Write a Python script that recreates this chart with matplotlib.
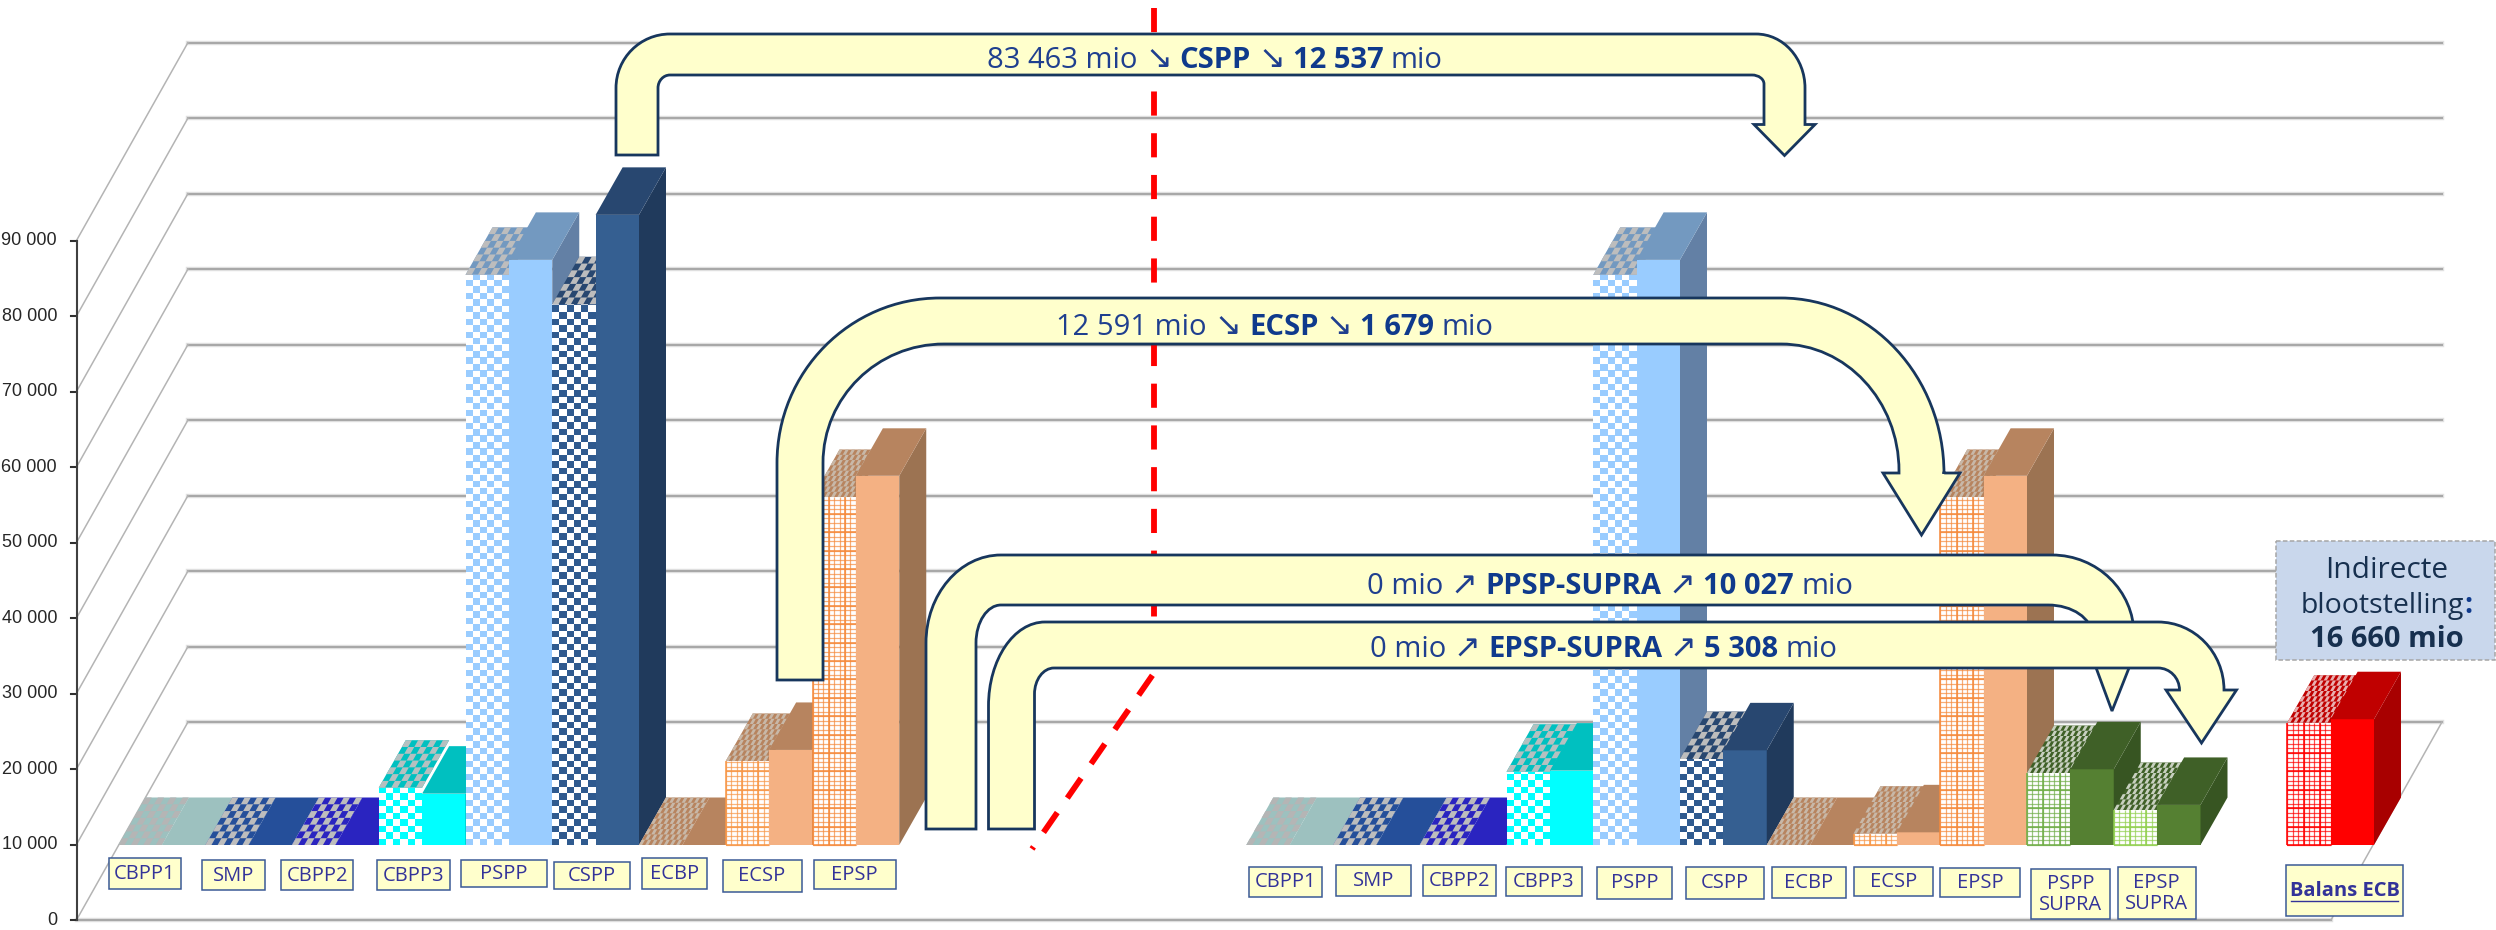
import matplotlib
matplotlib.use('Agg')
import matplotlib.pyplot as plt
import numpy as np
from matplotlib.collections import PolyCollection
from matplotlib.patches import PathPatch, Rectangle
from matplotlib.path import Path
from matplotlib.transforms import Affine2D

plt.rcParams['font.family'] = ['Open Sans', 'DejaVu Sans']

# Data
cats_left = ['CBPP1', 'SMP', 'CBPP2', 'CBPP3', 'PSPP', 'CSPP', 'ECBP', 'ECSP', 'EPSP']
pattern_left = [0, 0, 0, 7590, 75520, 71620, 0, 11130, 46090]
solid_left = [0, 0, 0, 6800, 77500, 83463, 0, 12591, 48900]

cats_right = ['CBPP1', 'SMP', 'CBPP2', 'CBPP3', 'PSPP', 'CSPP', 'ECBP', 'ECSP', 'EPSP',
              'PSPP\nSUPRA', 'EPSP\nSUPRA']
pattern_right = [0, 0, 0, 9700, 75520, 11390, 0, 1500, 46090, 9540, 4640]
solid_right = [0, 0, 0, 9850, 77500, 12537, 0, 1679, 48900, 10027, 5308]

cat_balans = 'Balans ECB'
pattern_balans = 16200
solid_balans = 16660

ticks = [0, 10000, 20000, 30000, 40000, 50000, 60000, 70000, 80000, 90000]
tick_labels = ['0', '10 000', '20 000', '30 000', '40 000', '50 000', '60 000', '70 000', '80 000', '90 000']

# colours: front, top, side, grey dash on top, pattern colour, pattern type
styles = {
    'CBPP1': ('#9dc3c1', '#9dc1bf', '#8fb0ae', '#b5b5b5', '#9dc3c1', 'check'),
    'SMP': ('#254f9a', '#254f9a', '#1f4280', '#bdbdbd', '#254f9a', 'check'),
    'CBPP2': ('#2a24c0', '#2a24c0', '#221e9c', '#bdbdbd', '#2a24c0', 'check'),
    'CBPP3': ('#00ffff', '#00c0c0', '#00a8a8', '#b5c0c0', '#00ffff', 'check'),
    'PSPP': ('#99ccff', '#7399c0', '#6380a5', '#bdbdbd', '#99ccff', 'check'),
    'CSPP': ('#355f91', '#284770', '#203a5c', '#bdbdbd', '#2f5a8f', 'check'),
    'ECBP': ('#f4b183', '#b7845f', '#9c7352', '#c8b8a8', '#f4b183', 'plaid'),
    'ECSP': ('#f4b183', '#b7845f', '#9c7352', '#c8b8a8', '#f79646', 'plaid'),
    'EPSP': ('#f4b183', '#b7845f', '#9c7352', '#c8b8a8', '#f58a3c', 'plaid'),
    'PSPP\nSUPRA': ('#558032', '#3f6027', '#375522', '#c8d0c0', '#70ad47', 'plaid'),
    'EPSP\nSUPRA': ('#558032', '#3f6027', '#375522', '#c8d0c0', '#92d050', 'plaid'),
    cat_balans: ('#ff0000', '#c00000', '#a80000', '#e8b0b0', '#ff0000', 'plaid'),
}

PITCH = 86.75
X0 = 118.5
PER_PX = 10000 / 75.5
BAR_W = 0.5
DX = 27 / PITCH
DY = 47.5 * PER_PX

fig = plt.figure(figsize=(24.96, 9.3), dpi=100)
ax = fig.add_axes([0, 0, 1, 1])
ax.set_xlim(-X0 / PITCH, (2496 - X0) / PITCH)
ax.set_ylim(-85 * PER_PX, 845 * PER_PX)
ax.axis('off')

# pixel coordinates for the decoration (top left origin)
px = Affine2D().scale(1, -1).translate(0, 930)


def grid_y(v, back=True):
    return (722 if back else 920) - v * 0.00755


# walls and floor
for v in ticks:
    ax.plot([188, 2442], [grid_y(v)] * 2, color='#e2e2e2', lw=3.2, transform=px, zorder=1)
    ax.plot([188, 2442], [grid_y(v)] * 2, color='#a8a8a8', lw=1.5, transform=px, zorder=1.1)
    ax.plot([76.5, 188], [grid_y(v, False), grid_y(v)], color='#b4b4b4', lw=1.1, transform=px, zorder=1.1)
    ax.plot([71, 76.5], [grid_y(v, False)] * 2, color='#303030', lw=1.5, transform=px, zorder=1.2)
ax.plot([76.5, 2331], [920, 920], color='#e2e2e2', lw=3.2, transform=px, zorder=1)
ax.plot([76.5, 2331], [920, 920], color='#a8a8a8', lw=1.5, transform=px, zorder=1.1)
ax.plot([2331, 2442], [920, 722], color='#b4b4b4', lw=1.1, transform=px, zorder=1.1)
ax.plot([76.5, 76.5], [grid_y(90000, False), 920], color='#404040', lw=1.5, transform=px, zorder=1.2)
for v, lab in zip(ticks, tick_labels):
    ax.text(57, grid_y(v, False), lab, ha='right', va='center', fontsize=13,
            family='Liberation Sans', color='#262626', transform=px)


def cells(k, base, u, w, ncols, nrows, kind=0):
    polys = []
    for r in range(nrows):
        for c in range(ncols):
            if (r + c) % 2 == kind:
                a = (k + u * c / ncols + w[0] * r / nrows, base + w[1] * r / nrows)
                b = (a[0] + u / ncols, a[1])
                d = (a[0] + w[0] / nrows, a[1] + w[1] / nrows)
                e = (b[0] + w[0] / nrows, b[1] + w[1] / nrows)
                polys.append([a, b, e, d])
    return polys


def draw_pair(k, pat, sol, name, z):
    front, top, side, grey, pcol, kind = styles[name]
    # patterned bar
    if pat > 0:
        ax.bar(k, pat, BAR_W, align='edge', color='white', zorder=z)
        if kind == 'check':
            nrows = int(pat / PER_PX / 6.5) + 1
            polys = cells(k, 0, BAR_W, (0, nrows * 6.5 * PER_PX), 6, nrows)
            coll = PolyCollection(polys, facecolors=pcol, edgecolors='none', zorder=z + 0.01)
            clip = Rectangle((k, 0), BAR_W, pat, transform=ax.transData)
            ax.add_collection(coll, autolim=False)
            coll.set_clip_path(clip)
        else:
            xs = k + BAR_W * np.arange(0, 9) / 8
            ys = np.arange(0, pat, 4.6 * PER_PX)
            ax.vlines(xs, 0, pat, color=pcol, lw=0.9, alpha=0.7, zorder=z + 0.01)
            ax.hlines(ys, k, k + BAR_W, color=pcol, lw=0.9, alpha=0.7, zorder=z + 0.01)
            ax.vlines(xs[::3], 0, pat, color=pcol, lw=1.1, zorder=z + 0.01)
            ax.hlines(ys[::4], k, k + BAR_W, color=pcol, lw=1.1, zorder=z + 0.01)
    ax.fill([k, k + BAR_W, k + BAR_W + DX, k + DX], [pat, pat, pat + DY, pat + DY],
            color=top, lw=0, zorder=z + 0.02)
    if kind == 'check':
        polys = cells(k, pat, BAR_W, (DX, DY), 7, 7)
    else:
        polys = cells(k, pat, BAR_W, (DX, DY), 14, 9)
    ax.add_collection(PolyCollection(polys, facecolors=grey, edgecolors='none', zorder=z + 0.03), autolim=False)
    # solid bar
    x = k + BAR_W
    if sol > 0:
        ax.bar(x, sol, BAR_W, align='edge', color=front, zorder=z + 0.1)
        ax.fill([x + BAR_W, x + BAR_W + DX, x + BAR_W + DX, x + BAR_W], [0, DY, sol + DY, sol],
                color=side, lw=0, zorder=z + 0.11)
    ax.fill([x, x + BAR_W, x + BAR_W + DX, x + DX], [sol, sol, sol + DY, sol + DY],
            color=top, lw=0, zorder=z + 0.12)


z = 2
for i, name in enumerate(cats_left):
    draw_pair(i, pattern_left[i], solid_left[i], name, z)
    z += 0.2
for i, name in enumerate(cats_right):
    draw_pair(13 + i, pattern_right[i], solid_right[i], name, z)
    z += 0.2
draw_pair(25, pattern_balans, solid_balans, cat_balans, z)

# red dashed separator
ax.plot([1154, 1154, 1032], [8, 673, 849], color='#ff0000', lw=4.2, transform=px, zorder=8,
        dashes=(24 / 5.8, 17.5 / 5.8), dash_capstyle='butt', dash_joinstyle='miter')

# arrows
K = 0.5523


def quarter(p0, p1, vertical_first=True):
    x0, y0 = p0
    x1, y1 = p1
    if vertical_first:
        return [(x0, y0 + (y1 - y0) * K), (x1 - (x1 - x0) * K, y1), (x1, y1)]
    return [(x0 + (x1 - x0) * K, y0), (x1, y1 - (y1 - y0) * K), (x1, y1)]


def u_arrow(xlo, xli, ybot, top_o, top_i, a_o, b_o, a_i, b_i, c_o, xro, d_o, c_i, xri, d_i,
            hy, hl, hr, tip, z):
    v = [(xlo, ybot), (xlo, a_o)]
    c = [Path.MOVETO, Path.LINETO]
    v += quarter((xlo, a_o), (b_o, top_o))
    c += [Path.CURVE4] * 3
    v.append((c_o, top_o))
    c.append(Path.LINETO)
    v += quarter((c_o, top_o), (xro, d_o), False)
    c += [Path.CURVE4] * 3
    v += [(xro, hy), (hr, hy), tip, (hl, hy), (xri, hy), (xri, d_i)]
    c += [Path.LINETO] * 6
    v += quarter((xri, d_i), (c_i, top_i))
    c += [Path.CURVE4] * 3
    v.append((b_i, top_i))
    c.append(Path.LINETO)
    v += quarter((b_i, top_i), (xli, a_i), False)
    c += [Path.CURVE4] * 3
    v += [(xli, ybot), (xlo, ybot)]
    c += [Path.LINETO, Path.CLOSEPOLY]
    ax.add_patch(PathPatch(Path(v, c), facecolor='#ffffcc', edgecolor='#17365d', lw=2.0,
                           transform=px, zorder=z, joinstyle='miter'))


u_arrow(616, 658, 155, 34, 75, 88, 670, 88, 670, 1756, 1805, 88, 1752, 1764, 84,
        124.5, 1754, 1815, (1784.5, 155.5), 10)
u_arrow(777, 823, 680, 298, 344, 463, 940, 463, 944, 1781, 1944, 474, 1781, 1899, 471,
        473, 1883, 1960, (1921.5, 535), 10)
u_arrow(926, 976, 829, 555, 605, 643, 1001, 643, 1001, 2052, 2134, 635, 2048, 2092, 635,
        635, 2084, 2142, (2112, 711), 10.5)
u_arrow(988.5, 1034.5, 829, 622, 668, 706, 1045, 694, 1054, 2158, 2224, 690, 2158, 2179.5, 690,
        690, 2166, 2236.5, (2201.5, 743), 11)

renderer = fig.canvas.get_renderer()


def mixed(xc, yc, runs, size=21, gap=7.5, color='#1f3f8f', z=12):
    items = []
    total = 0
    for txt, bold in runs:
        kw = {'family': 'DejaVu Sans', 'fontsize': size + 2} if txt in '↘↗' else {'fontsize': size}
        t = ax.text(0, 0, txt, fontweight='bold' if bold else 'normal',
                    color='#0f3a8c' if bold else color, transform=px, ha='left', va='baseline', zorder=z, **kw)
        w = t.get_window_extent(renderer).width
        items.append((t, w))
        total += w
    total += gap * (len(runs) - 1)
    x = xc - total / 2
    for t, w in items:
        t.set_position((x, yc + 10.5))
        x += w + gap


mixed(1215, 57.5, [('83 463 mio', False), ('↘', False), ('CSPP', True), ('↘', False), ('12 537', True), ('mio', False)])
mixed(1275, 324, [('12 591 mio', False), ('↘', False), ('ECSP', True), ('↘', False), ('1 679', True), ('mio', False)])
mixed(1610, 583, [('0 mio', False), ('↗', False), ('PPSP-SUPRA', True), ('↗', False), ('10 027', True), ('mio', False)])
mixed(1604, 646.5, [('0 mio', False), ('↗', False), ('EPSP-SUPRA', True), ('↗', False), ('5 308', True), ('mio', False)])

# category labels
boxes_left = [(109, 181, 858, 889), (202, 265, 860, 890), (281, 353, 860, 890), (377, 450, 860, 890),
              (460.5, 547, 860, 887), (553.5, 629.5, 862, 889), (642, 707, 858, 888.5),
              (722.5, 801.5, 860, 891.5), (814, 895.5, 859.5, 888.5)]
boxes_right = [(1248.5, 1322, 866.5, 897), (1335.5, 1411, 865, 895.5), (1423, 1495.5, 865, 895.5),
               (1506, 1581.5, 867, 895.5), (1597, 1672, 866.5, 898.5), (1685.5, 1764, 867, 898.5),
               (1771.5, 1846, 866.5, 897.5), (1854, 1933, 866.5, 895.5), (1940, 2020, 868, 896.5),
               (2031, 2110, 869, 919), (2117.5, 2196, 866.5, 919)]
box_balans = (2286, 2403, 864.5, 916)


def label_box(box, text, bold=False):
    x0, x1, y0, y1 = box
    ax.add_patch(Rectangle((x0, y0), x1 - x0, y1 - y0, facecolor='#ffffcc', edgecolor='#3b5a96',
                           lw=1.1, transform=px, zorder=13))
    ax.text((x0 + x1) / 2, (y0 + y1) / 2 + 0.5, text, ha='center', va='center', fontsize=14.5, color='#333399',
            fontweight='bold' if bold else 'normal', linespacing=1.05, transform=px, zorder=14)


for box, name in zip(boxes_left, cats_left):
    label_box(box, name)
for box, name in zip(boxes_right, cats_right):
    label_box(box, name)
label_box(box_balans, cat_balans, True)
ax.plot([2291, 2398], [900.5, 900.5], color='#333399', lw=1.0, transform=px, zorder=14)

# indirect exposure box
ax.add_patch(Rectangle((2276, 541), 219, 119, facecolor='#c9d7ec', edgecolor='#a6a6a6', lw=1.1,
                       linestyle=(0, (3, 1.5)), transform=px, zorder=13))
ax.text(2386.5, 570, 'Indirecte', ha='center', va='center', fontsize=21.5, color='#17304f', transform=px, zorder=14)
mixed(2386.5, 602, [('blootstelling', False), (':', True)], size=20.5, gap=0, color='#17304f', z=14)
ax.text(2386.5, 639, '16 660 mio', ha='center', va='center', fontsize=21, fontweight='bold', color='#17304f',
        transform=px, zorder=14)

fig.savefig('out.png', dpi=100, facecolor='white')
